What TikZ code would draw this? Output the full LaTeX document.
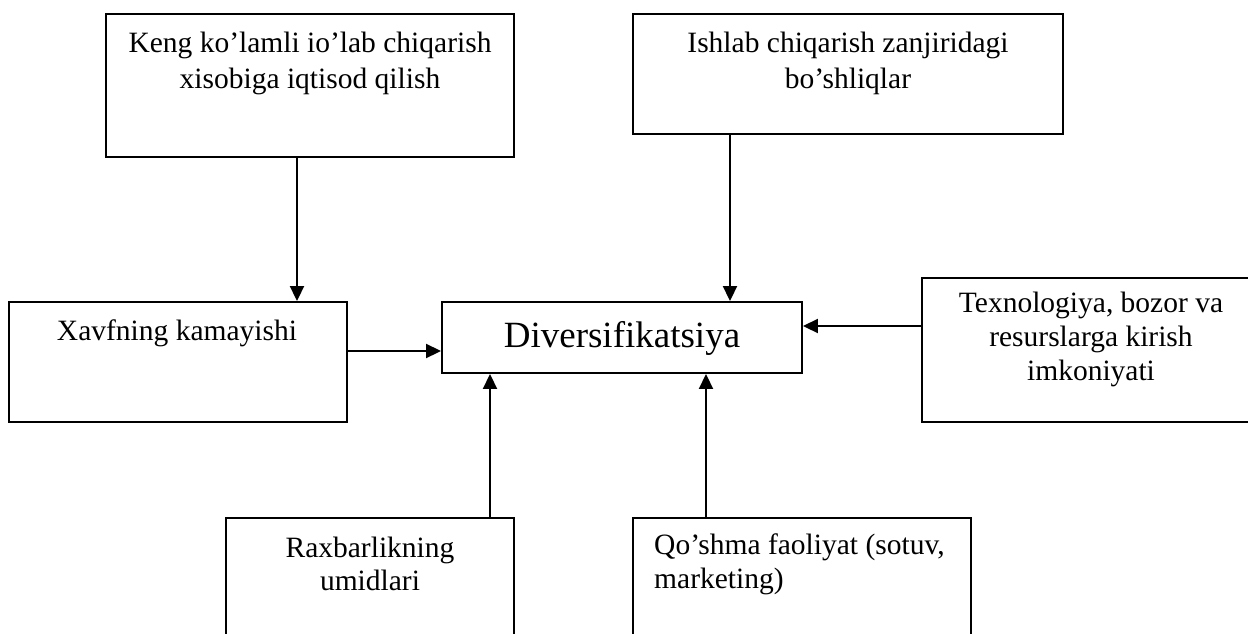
\documentclass[tikz,border=0pt]{standalone}
\usepackage{fontspec}
\setmainfont{Liberation Serif}
\usetikzlibrary{arrows.meta}
\begin{document}
\begin{tikzpicture}[x=1pt,y=-1pt,
  box/.style={draw=black, line width=1.9pt, rectangle, inner sep=0pt, fill=none},
  txt/.style={inner sep=0pt, font=\fontsize{29.5}{36}\selectfont},
  arr/.style={line width=1.9pt, -{Triangle[length=15pt,width=14pt]}}]
\useasboundingbox (0,0) rectangle (1248,633);
\clip (0,0) rectangle (1248,633);
\fill[white] (0,0) rectangle (1248,633);
% boxes
\node[box, minimum width=408pt, minimum height=143pt] (keng) at (310,85.5) {};
\node[box, minimum width=430pt, minimum height=120pt] (ishlab) at (848,74) {};
\node[box, minimum width=338pt, minimum height=120pt] (xavf) at (178,362) {};
\node[box, minimum width=360pt, minimum height=71pt] (div) at (622,337.5) {};
\node[box, minimum width=338pt, minimum height=144pt] (tex) at (1091,350) {};
\node[box, minimum width=288pt, minimum height=142pt] (rax) at (370,589) {};
\node[box, minimum width=338pt, minimum height=142pt] (qo) at (802,589) {};
% texts
\node[txt, align=center, anchor=north] (tkeng) at (310,32) {Keng ko’lamli io’lab chiqarish\\xisobiga iqtisod qilish};
\node[txt, align=center, anchor=north] (tishlab) at (848,32) {Ishlab chiqarish zanjiridagi\\bo’shliqlar};
\node[txt, anchor=base] (txavf) at (177,340) {Xavfning kamayishi};
\node[inner sep=0pt, font=\fontsize{37}{44}\selectfont, anchor=base] (tdiv) at (622,347) {Diversifikatsiya};
\node[inner sep=0pt, font=\fontsize{29.5}{34}\selectfont, align=center, anchor=north] (ttex) at (1091,292) {Texnologiya, bozor va\\resurslarga kirish\\imkoniyati};
\node[inner sep=0pt, font=\fontsize{29.5}{33}\selectfont, align=center, anchor=north] (trax) at (370,537) {Raxbarlikning\\umidlari};
\node[inner sep=0pt, font=\fontsize{29.5}{34}\selectfont, align=left, anchor=north west] (tqo) at (654,534) {Qo’shma faoliyat (sotuv,\\marketing)};
% guide coordinates for connector positions
\coordinate (ck) at (297,0);
\coordinate (ci) at (730,0);
\coordinate (cr) at (490,0);
\coordinate (cq) at (706,0);
\coordinate (cx) at (0,351);
\coordinate (ct) at (0,326);
% connectors
\draw[arr] (ck |- keng.south) -- (ck |- xavf.north);
\draw[arr] (ci |- ishlab.south) -- (ci |- div.north);
\draw[arr] (xavf.east |- cx) -- (div.west |- cx);
\draw[arr] (tex.west |- ct) -- (div.east |- ct);
\draw[arr] (cr |- rax.north) -- (cr |- div.south);
\draw[arr] (cq |- qo.north) -- (cq |- div.south);
\end{tikzpicture}
\end{document}
